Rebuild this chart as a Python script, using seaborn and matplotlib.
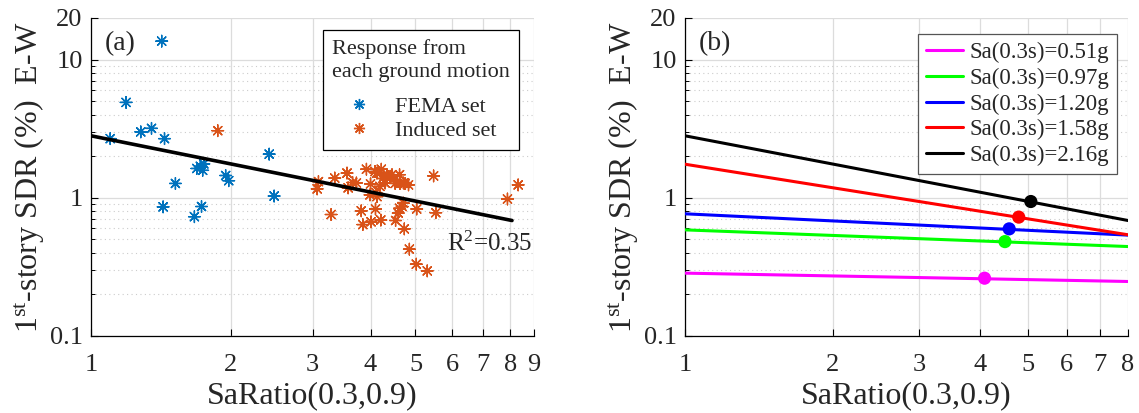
import numpy as np
import pandas as pd
import matplotlib
matplotlib.use("Agg")
import matplotlib.pyplot as plt
import seaborn as sns
from matplotlib.lines import Line2D
from matplotlib.ticker import FixedLocator, FixedFormatter, NullFormatter

# ---------------- data ----------------
fema_x = [1.10, 1.19, 1.28, 1.35, 1.42, 1.43, 1.44, 1.52, 1.67, 1.69, 1.72, 1.73,
          1.74, 1.75, 1.95, 1.98, 2.42, 2.48]
fema_y = [2.68, 4.9, 3.0, 3.18, 13.6, 0.86, 2.68, 1.27, 0.73, 1.63, 1.69, 0.865,
          1.58, 1.76, 1.45, 1.33, 2.07, 1.03]

induced_x = [1.875, 3.07, 3.09, 3.29, 3.35, 3.56, 3.58, 3.66, 3.73, 3.82, 3.85, 3.92,
             4.00, 3.99, 4.01, 4.09, 4.10, 4.11, 4.13, 4.13, 4.19, 4.21, 4.22, 4.25,
             4.27, 4.30, 4.34, 4.41, 4.45, 4.52, 4.53, 4.56, 4.59, 4.62, 4.62, 4.63,
             4.68, 4.71, 4.71, 4.73, 4.75, 4.83, 4.85, 5.02, 5.03, 5.30, 5.47, 5.53,
             7.89, 8.32]
induced_y = [3.06, 1.16, 1.31, 0.757, 1.39, 1.51, 1.18, 1.29, 1.28, 0.805, 0.64, 1.61,
             1.26, 1.05, 0.67, 1.55, 0.83, 1.09, 1.51, 1.02, 1.21, 0.69, 1.61, 1.38,
             1.47, 1.28, 1.47, 1.43, 1.47, 1.27, 0.685, 1.31, 0.775, 0.84, 1.47, 1.27,
             0.865, 0.915, 1.28, 0.596, 1.27, 1.24, 0.425, 0.331, 0.83, 0.296, 1.44, 0.78,
             0.98, 1.24]

fit_x = [1.0, 8.07]
fit_y = [2.81, 0.685]
r2_text = "R$^2$=0.35"

sa_labels = ["Sa(0.3s)=0.51g", "Sa(0.3s)=0.97g", "Sa(0.3s)=1.20g",
             "Sa(0.3s)=1.58g", "Sa(0.3s)=2.16g"]
sa_colors = ["#FF00FF", "#00FF00", "#0000FF", "#FF0000", "#000000"]
line_x = [1.0, 8.0]
line_y_start = [0.285, 0.586, 0.766, 1.75, 2.81]
line_y_end = [0.248, 0.444, 0.537, 0.54, 0.685]
dot_x = [4.08, 4.49, 4.58, 4.79, 5.07]
dot_y = [0.262, 0.482, 0.596, 0.725, 0.94]

yticks = [0.1, 1, 10, 20]
yticklabels = ["0.1", "1", "10", "20"]
yminor = [0.2, 0.3, 0.4, 0.5, 0.6, 0.7, 0.8, 0.9, 2, 3, 4, 5, 6, 7, 8, 9]
xticks_a = [1, 2, 3, 4, 5, 6, 7, 8, 9]
xticks_b = [1, 2, 3, 4, 5, 6, 7, 8]

xlabel = "SaRatio(0.3,0.9)"
ylabel = "1$^{\\mathrm{st}}$-story SDR (%)  E-W"

# ---------------- style ----------------
sns.set_theme(style="white")
plt.rcParams["font.family"] = ["Liberation Serif", "DejaVu Serif"]
plt.rcParams["mathtext.fontset"] = "custom"
plt.rcParams["mathtext.rm"] = "Liberation Serif"
plt.rcParams["mathtext.it"] = "Liberation Serif:italic"
plt.rcParams["mathtext.bf"] = "Liberation Serif:bold"

FEMA_C = "#0072BD"
IND_C = "#D95319"
AST = (8, 2, 0)
TICK_FS = 19
LABEL_FS = 23
LEG_FS = 16

W, H = 1139, 413
fig = plt.figure(figsize=(W / 100, H / 100), dpi=100)
ax1 = fig.add_axes([91 / W, 1 - 336 / H, (534 - 91) / W, (336 - 18) / H])
ax2 = fig.add_axes([685 / W, 1 - 336 / H, (1128 - 685) / W, (336 - 18) / H])


def style_axes(ax, xticks, xlim):
    ax.set_xscale("log")
    ax.set_yscale("log")
    ax.set_xlim(*xlim)
    ax.set_ylim(0.1, 20)
    ax.xaxis.set_major_locator(FixedLocator(xticks))
    ax.xaxis.set_major_formatter(FixedFormatter([str(t) for t in xticks]))
    ax.xaxis.set_minor_locator(FixedLocator([]))
    ax.xaxis.set_minor_formatter(NullFormatter())
    ax.yaxis.set_major_locator(FixedLocator(yticks))
    ax.yaxis.set_major_formatter(FixedFormatter(yticklabels))
    ax.yaxis.set_minor_locator(FixedLocator(yminor))
    ax.yaxis.set_minor_formatter(NullFormatter())
    ax.grid(True, which="major", color="#dcdcdc", lw=0.9, ls="-")
    ax.grid(True, which="minor", axis="y", color="#cccccc", lw=0.8, ls=(0, (1, 3)))
    ax.set_axisbelow(True)
    for s in ["top", "right"]:
        ax.spines[s].set_visible(False)
    for s in ["left", "bottom"]:
        ax.spines[s].set_color("black")
        ax.spines[s].set_linewidth(0.9)
    ax.tick_params(which="major", direction="in", length=5, width=0.8, color="black",
                   labelsize=TICK_FS, left=True, bottom=True, top=False, right=False)
    ax.tick_params(axis="x", which="major", pad=13)
    ax.tick_params(axis="y", which="major", pad=6)
    ax.tick_params(which="minor", direction="in", length=3, width=0.7, color="black",
                   left=True, bottom=False)
    ax.set_xlabel(xlabel, fontsize=LABEL_FS, labelpad=4)
    ax.set_ylabel(ylabel, fontsize=LABEL_FS, labelpad=2)


# ---------------- panel (a) ----------------
df_pts = pd.DataFrame({
    "x": fema_x + induced_x,
    "y": fema_y + induced_y,
    "set": ["FEMA set"] * len(fema_x) + ["Induced set"] * len(induced_x),
})
sns.scatterplot(data=df_pts, x="x", y="y", hue="set",
                palette={"FEMA set": FEMA_C, "Induced set": IND_C},
                marker=AST, s=70, linewidth=1.0, legend=False, ax=ax1, zorder=3)
sns.lineplot(x=fit_x, y=fit_y, color="black", lw=2.6, ax=ax1, zorder=4)
style_axes(ax1, xticks_a, (1, 9))
ax1.text(0.90, 0.29, r2_text, transform=ax1.transAxes, fontsize=18,
         ha="center", va="center")
ax1.text(0.03, 0.918, "(a)", transform=ax1.transAxes, fontsize=TICK_FS + 1,
         ha="left", va="center")
h1 = [Line2D([], [], ls="none", marker=AST, color=FEMA_C, markersize=8, mew=1.0),
      Line2D([], [], ls="none", marker=AST, color=IND_C, markersize=8, mew=1.0)]
leg1 = ax1.legend(h1, ["FEMA set", "Induced set"],
                  title="Response from\neach ground motion",
                  loc="upper right", bbox_to_anchor=(0.966, 0.962),
                  fontsize=LEG_FS, title_fontsize=LEG_FS, frameon=True,
                  fancybox=False, framealpha=1, edgecolor="black",
                  borderpad=0.4, labelspacing=0.18, handlelength=1.2,
                  handletextpad=1.0, borderaxespad=0)
leg1.get_title().set_linespacing(1.3)
leg1._legend_box.sep = 10
leg1.get_frame().set_linewidth(0.9)
leg1.set_zorder(10)

# ---------------- panel (b) ----------------
rows = []
for lab, y0, y1 in zip(sa_labels, line_y_start, line_y_end):
    rows.append({"x": line_x[0], "y": y0, "label": lab})
    rows.append({"x": line_x[1], "y": y1, "label": lab})
df_lines = pd.DataFrame(rows)
pal = dict(zip(sa_labels, sa_colors))
sns.lineplot(data=df_lines, x="x", y="y", hue="label", palette=pal, lw=2.2,
             legend=False, ax=ax2, zorder=3)
df_dots = pd.DataFrame({"x": dot_x, "y": dot_y, "label": sa_labels})
sns.scatterplot(data=df_dots, x="x", y="y", hue="label", palette=pal, s=90,
                linewidth=0, legend=False, ax=ax2, zorder=4)
style_axes(ax2, xticks_b, (1, 8))
ax2.text(0.03, 0.918, "(b)", transform=ax2.transAxes, fontsize=TICK_FS + 1,
         ha="left", va="center")
h2 = [Line2D([], [], color=c, lw=2.2) for c in sa_colors]
leg2 = ax2.legend(h2, sa_labels, loc="upper right", bbox_to_anchor=(0.976, 0.950),
                  fontsize=16.5, frameon=True, fancybox=False, framealpha=1,
                  edgecolor="#555555", borderpad=0.35, labelspacing=0.2,
                  handlelength=1.6, handletextpad=0.3, borderaxespad=0)
leg2.get_frame().set_linewidth(0.9)
leg2.set_zorder(10)

fig.savefig("out.png", dpi=100)
